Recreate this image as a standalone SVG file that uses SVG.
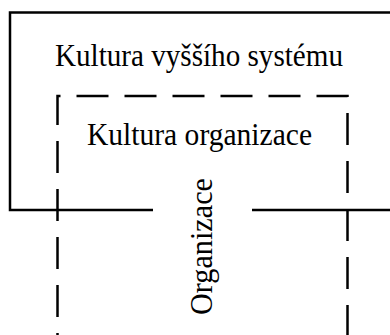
<svg xmlns="http://www.w3.org/2000/svg" width="390" height="335" viewBox="0 0 390 335">
  <style>
    .frame { fill: none; stroke: #000; stroke-width: 2.5; }
    .dashed { stroke-dasharray: 32 16; stroke-dashoffset: 30; }
    .label { font-family: "Liberation Serif", "Times New Roman", serif; font-size: 31px; fill: #000; }
  </style>
  <rect width="390" height="335" fill="#fff"/>
  <g id="connectors"/>
  <!-- higher system: open frame with a gap in its bottom edge -->
  <g id="vyssi-system">
    <path class="frame" d="M153,210 H10 V12.5 H390 M252,210 H390"/>
    <text class="label" x="199" y="66" text-anchor="middle" textLength="288" lengthAdjust="spacingAndGlyphs">Kultura vyššího systému</text>
  </g>
  <!-- organisation culture: dashed frame running off the bottom -->
  <g id="kultura-organizace">
    <path class="frame dashed" d="M57.5,335 V96 H347.5 V335"/>
    <text class="label" x="199.5" y="145" text-anchor="middle" textLength="225" lengthAdjust="spacingAndGlyphs">Kultura organizace</text>
  </g>
  <!-- the organisation itself, vertical label -->
  <g id="organizace">
    <text class="label" transform="translate(212,315) rotate(-90)" textLength="137" lengthAdjust="spacingAndGlyphs">Organizace</text>
  </g>
</svg>
